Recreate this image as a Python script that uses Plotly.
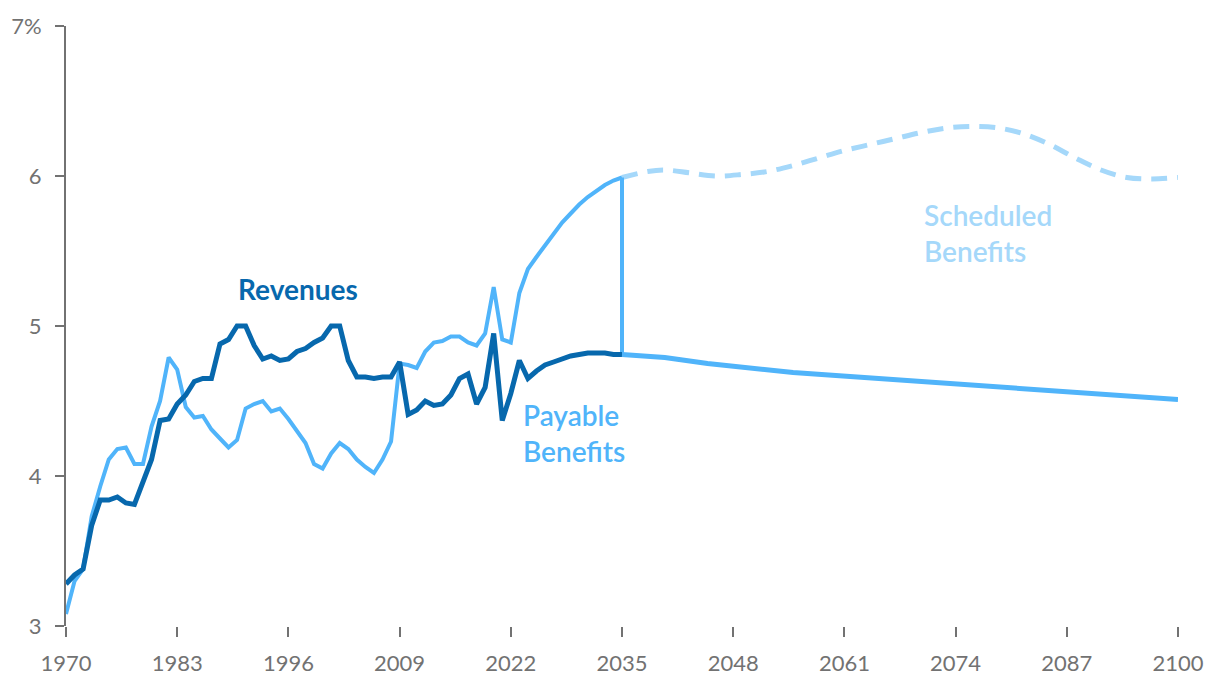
import plotly.graph_objects as go

# ---- data ----
hist_years = list(range(1970, 2036))
revenues = [3.28, 3.34, 3.38, 3.67, 3.84, 3.84, 3.86, 3.82, 3.81, 3.95,
            4.11, 4.37, 4.38, 4.48, 4.54, 4.63, 4.65, 4.65, 4.88, 4.91,
            5.00, 5.00, 4.87, 4.78, 4.80, 4.77, 4.78, 4.83, 4.85, 4.89,
            4.92, 5.00, 5.00, 4.77, 4.66, 4.66, 4.65, 4.66, 4.66, 4.76,
            4.41, 4.44, 4.50, 4.47, 4.48, 4.54, 4.65, 4.68, 4.48, 4.59,
            4.95, 4.37, 4.55, 4.77, 4.65, 4.70, 4.74, 4.76, 4.78, 4.80,
            4.81, 4.82, 4.82, 4.82, 4.81, 4.81]
payable_hist = [3.08, 3.30, 3.38, 3.73, 3.93, 4.11, 4.18, 4.19, 4.08, 4.08,
                4.33, 4.50, 4.79, 4.71, 4.46, 4.39, 4.40, 4.31, 4.25, 4.19,
                4.24, 4.45, 4.48, 4.50, 4.43, 4.45, 4.38, 4.30, 4.22, 4.08,
                4.05, 4.15, 4.22, 4.18, 4.11, 4.06, 4.02, 4.11, 4.23, 4.75,
                4.74, 4.72, 4.83, 4.89, 4.90, 4.93, 4.93, 4.89, 4.87, 4.95,
                5.26, 4.91, 4.89, 5.22, 5.38, 5.46, 5.54, 5.61, 5.69, 5.75,
                5.81, 5.86, 5.90, 5.94, 5.97, 5.99]

proj_years = [2035, 2040, 2045, 2050, 2055, 2060, 2065, 2070, 2075, 2080, 2085, 2090, 2095, 2100]
payable_proj = [4.81, 4.79, 4.75, 4.72, 4.69, 4.67, 4.65, 4.63, 4.61, 4.59, 4.57, 4.55, 4.53, 4.51]

sched_years = [2035, 2038, 2040, 2043, 2046, 2049, 2052, 2055, 2058, 2061, 2064, 2067,
               2070, 2073, 2076, 2079, 2082, 2085, 2088, 2091, 2094, 2097, 2100]
scheduled = [5.99, 6.03, 6.04, 6.02, 6.00, 6.01, 6.03, 6.07, 6.12, 6.17, 6.21, 6.25,
             6.29, 6.32, 6.33, 6.32, 6.28, 6.21, 6.12, 6.04, 5.99, 5.98, 5.99]

x_ticks = [1970, 1983, 1996, 2009, 2022, 2035, 2048, 2061, 2074, 2087, 2100]
y_ticks = [3, 4, 5, 6, 7]
y_ticktext = ["3", "4", "5", "6", "7%"]

DARK = "#0768ad"
LIGHT = "#50b4fa"
PALE = "#a5d8fa"
GRAY = "#727272"

fig = go.Figure()

fig.add_trace(go.Scatter(x=sched_years, y=scheduled, mode="lines",
                         line=dict(color=PALE, width=5, dash="16px,10px", shape="spline"),
                         hoverinfo="skip"))
fig.add_trace(go.Scatter(x=hist_years, y=payable_hist, mode="lines",
                         line=dict(color=LIGHT, width=4), hoverinfo="skip"))
fig.add_trace(go.Scatter(x=[hist_years[-1], hist_years[-1]], y=[revenues[-1], payable_hist[-1]],
                         mode="lines", line=dict(color=LIGHT, width=4), hoverinfo="skip"))
fig.add_trace(go.Scatter(x=hist_years, y=revenues, mode="lines",
                         line=dict(color=DARK, width=5), hoverinfo="skip"))
fig.add_trace(go.Scatter(x=proj_years, y=payable_proj, mode="lines",
                         line=dict(color=LIGHT, width=5), hoverinfo="skip"))

fig.add_annotation(x=1989.9, y=5.247, text="Revenues", showarrow=False,
                   xanchor="left", yanchor="middle",
                   font=dict(family="Lato", size=28, color=DARK, weight=700))
fig.add_annotation(x=2023.2, y=4.287, text="Payable<br>Benefits", showarrow=False,
                   xanchor="left", yanchor="middle", align="left",
                   font=dict(family="Lato", size=28, color=LIGHT, weight=600))
fig.add_annotation(x=2070.1, y=5.617, text="Scheduled<br>Benefits", showarrow=False,
                   xanchor="left", yanchor="middle", align="left",
                   font=dict(family="Lato", size=28, color=PALE, weight=600))

fig.update_layout(
    width=1212, height=680,
    margin=dict(l=58, r=42, t=18, b=62),
    paper_bgcolor="white", plot_bgcolor="white",
    showlegend=False,
    font=dict(family="Lato", color=GRAY, size=22),
    xaxis=dict(range=[1970, 2100], tickvals=x_ticks, ticks="outside", ticklen=10,
               tickcolor=GRAY, tickwidth=2, showline=False, showgrid=False,
               zeroline=False, ticklabelstandoff=8, automargin=False,
               tickfont=dict(family="Lato", size=22, color=GRAY)),
    yaxis=dict(range=[3, 7], tickvals=y_ticks, ticktext=y_ticktext, ticks="outside",
               ticklen=9, tickcolor=GRAY, tickwidth=2, showline=True, linecolor=GRAY,
               linewidth=2, showgrid=False, zeroline=False, ticklabelstandoff=9,
               automargin=False,
               tickfont=dict(family="Lato", size=22, color=GRAY)),
)

fig.write_html("out.html")
